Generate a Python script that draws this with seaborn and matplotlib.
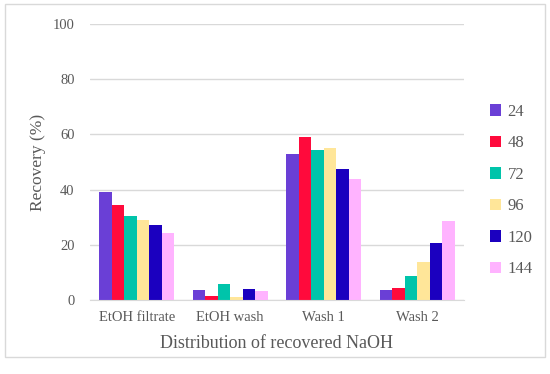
import pandas as pd
import numpy as np
import seaborn as sns
import matplotlib.pyplot as plt
from matplotlib.patches import Rectangle

# data
categories = ['EtOH filtrate', 'EtOH wash', 'Wash 1', 'Wash 2']
times = ['24', '48', '72', '96', '120', '144']
rec_24 = [39.0, 3.6, 53.0, 3.6]
rec_48 = [34.3, 1.6, 59.0, 4.5]
rec_72 = [30.4, 5.7, 54.4, 8.7]
rec_96 = [28.9, 1.2, 54.9, 13.9]
rec_120 = [27.1, 4.0, 47.4, 20.8]
rec_144 = [24.1, 3.3, 43.7, 28.5]
colors = ['#6A3FD6', '#FF0A3C', '#00C4AA', '#FFE699', '#1B00BF', '#FFB3FF']

series = [rec_24, rec_48, rec_72, rec_96, rec_120, rec_144]
rows = []
for t, vals in zip(times, series):
	for c, v in zip(categories, vals):
		rows.append({'category': c, 'time': t, 'recovery': v})
df = pd.DataFrame(rows)

sns.set_style('white')
plt.rcParams['font.family'] = ['Liberation Serif', 'DejaVu Serif']
text_col = '#595959'

fig = plt.figure(figsize=(5.5, 3.74), dpi=100)
ax = fig.add_axes([0.1636, 0.198, 0.68, 0.738])

sns.barplot(data=df, x='category', y='recovery', hue='time', hue_order=times,
			palette=colors, order=categories, width=0.80, saturation=1,
			linewidth=0, ax=ax, legend=True)

ax.set_ylim(0, 100)
ax.set_xlim(-0.5, 3.5)
ax.set_yticks(range(0, 101, 20))
ax.yaxis.grid(True, color='#D9D9D9', linewidth=1)
ax.set_axisbelow(True)
for s in ['top', 'right', 'left']:
	ax.spines[s].set_visible(False)
ax.spines['bottom'].set_color('#D9D9D9')
ax.tick_params(axis='y', length=0, labelsize=10.5, labelcolor=text_col, pad=11)
ax.tick_params(axis='x', length=0, labelsize=10.5, labelcolor=text_col, pad=8)
ax.set_ylabel('Recovery (%)', fontsize=12.5, color=text_col, labelpad=5)
ax.set_xlabel('Distribution of recovered NaOH', fontsize=13, color=text_col, labelpad=8)

handles, labels = ax.get_legend_handles_labels()
ax.legend(handles, labels, loc='upper left', bbox_to_anchor=(1.03, 0.765), frameon=False,
		  handlelength=0.65, handleheight=0.65, handletextpad=0.4, labelspacing=0.93,
		  fontsize=12, labelcolor=text_col)

fig.patches.append(Rectangle((0.009, 0.045), 0.982, 0.944, transform=fig.transFigure,
							 fill=False, edgecolor='#D9D9D9', linewidth=1))

fig.savefig('out.png', dpi=100)
